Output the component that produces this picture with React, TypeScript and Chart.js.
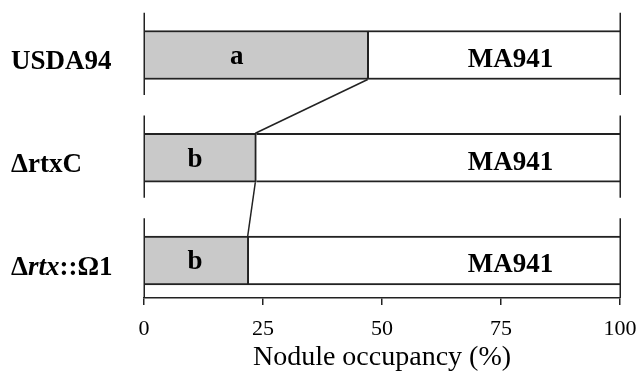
import React, { useEffect, useRef } from "react";
import { Chart, registerables } from "chart.js";

Chart.register(...registerables);

// ---- data ----
const categories = ["USDA94", "ΔrtxC", "Δrtx::Ω1"];
const usdaShare = [47.2, 23.6, 22.0]; // grey segment (%)
const ma941Share = [52.8, 76.4, 78.0]; // white segment (%)
const usdaLetters = ["a", "b", "b"];
const partnerLabel = "MA941";
const xTicks = [0, 25, 50, 75, 100];
const axisTitle = "Nodule occupancy (%)";
// annotation anchors (data units along the x axis)
const letterAnchors = [19.5, 10.7, 10.7];
const partnerAnchor = 77;

const SERIF = "'Liberation Serif', 'Times New Roman', Times, serif";
const INK = "#222";

const overlayPlugin = {
  id: "overlay",
  afterDatasetsDraw(chart: any) {
    const { ctx } = chart;
    const xs = chart.scales.x;
    const ys = chart.scales.y;
    const grey = chart.getDatasetMeta(0).data;

    ctx.save();
    ctx.strokeStyle = INK;
    ctx.lineWidth = 1.5;

    // vertical boundary lines at 0 and 100 for each row
    categories.forEach((_, i) => {
      const y1 = ys.getPixelForValue(i - 0.41);
      const y2 = Math.min(ys.getPixelForValue(i + 0.39), chart.chartArea.bottom);
      [xTicks[0], xTicks[xTicks.length - 1]].forEach((v) => {
        const px = Math.round(xs.getPixelForValue(v)) + 0.25;
        ctx.beginPath();
        ctx.moveTo(px, y1);
        ctx.lineTo(px, y2);
        ctx.stroke();
      });
    });

    // connecting lines between the ends of the grey bars
    for (let i = 0; i < grey.length - 1; i++) {
      const a = grey[i].getProps(["x", "y", "height"], true);
      const b = grey[i + 1].getProps(["x", "y", "height"], true);
      ctx.beginPath();
      ctx.moveTo(a.x - 1, a.y + a.height / 2);
      ctx.lineTo(b.x - 1, b.y - b.height / 2);
      ctx.stroke();
    }

    // text inside bars
    ctx.fillStyle = "#000";
    ctx.font = `bold 27px ${SERIF}`;
    ctx.textAlign = "center";
    ctx.textBaseline = "alphabetic";
    categories.forEach((_, i) => {
      const cy = ys.getPixelForValue(i);
      ctx.fillText(usdaLetters[i], xs.getPixelForValue(letterAnchors[i]), cy + 9);
      ctx.fillText(partnerLabel, xs.getPixelForValue(partnerAnchor), cy + 12);
    });

    // category labels on the left (with italic "rtx")
    ctx.textAlign = "left";
    categories.forEach((label, i) => {
      const cy = ys.getPixelForValue(i) + 14.5;
      let x = 11;
      const parts: { t: string; it: boolean }[] = [];
      const m = label.match(/^(Δ)(rtx)(::.*)$/);
      if (m) {
        parts.push({ t: m[1], it: false }, { t: m[2], it: true }, { t: m[3], it: false });
      } else {
        parts.push({ t: label, it: false });
      }
      parts.forEach((p) => {
        ctx.font = `${p.it ? "italic " : ""}bold 27px ${SERIF}`;
        ctx.fillText(p.t, x, cy);
        x += ctx.measureText(p.t).width;
      });
    });
    ctx.restore();
  },
};

export default function App() {
  const ref = useRef<HTMLCanvasElement | null>(null);

  useEffect(() => {
    document.body.style.margin = "0";
    const canvas = ref.current;
    if (!canvas) return;
    const chart = new Chart(canvas, {
      type: "bar",
      data: {
        datasets: [
          {
            label: "USDA",
            data: usdaShare.map((v, i) => ({ x: v, y: i })),
            backgroundColor: "#c9c9c9",
            borderColor: INK,
            borderWidth: { top: 2, right: 2, bottom: 2, left: 0 },
            borderSkipped: false,
            barThickness: 49,
          },
          {
            label: partnerLabel,
            data: ma941Share.map((v, i) => ({ x: v, y: i })),
            backgroundColor: "#ffffff",
            borderColor: INK,
            borderWidth: { top: 2, right: 0, bottom: 2, left: 0 },
            borderSkipped: false,
            barThickness: 49,
          },
        ],
      } as any,
      options: {
        indexAxis: "y",
        animation: false,
        responsive: true,
        maintainAspectRatio: false,
        layout: { padding: { left: 144, right: 16, top: 3.6, bottom: 0 } },
        plugins: {
          legend: { display: false },
          tooltip: { enabled: false },
        },
        scales: {
          y: {
            type: "linear",
            display: false,
            stacked: true,
            offset: false,
            reverse: true,
            min: -0.5,
            max: 2.365,
            grid: { offset: false },
          },
          x: {
            type: "linear",
            stacked: true,
            offset: false,
            min: xTicks[0],
            max: xTicks[xTicks.length - 1],
            afterBuildTicks: (s: any) => {
              s.ticks = xTicks.map((v) => ({ value: v }));
            },
            afterFit: (s: any) => {
              s.paddingLeft = 6;
              s.paddingRight = 16;
              s.height = 77;
            },
            grid: {
              display: true,
              drawOnChartArea: false,
              drawTicks: true,
              tickLength: 7,
              color: INK,
              lineWidth: 1.5,
            },
            border: { display: true, color: INK, width: 1.5 },
            ticks: {
              color: "#000",
              padding: 13,
              maxRotation: 0,
              autoSkip: false,
              font: { family: SERIF, size: 22, lineHeight: 1 },
            },
            title: {
              display: true,
              text: axisTitle,
              color: "#000",
              font: { family: SERIF, size: 28, lineHeight: 1 },
              padding: { top: 0, bottom: 3 },
            },
          },
        },
      } as any,
      plugins: [overlayPlugin],
    });
    return () => chart.destroy();
  }, []);

  return (
    <div style={{ width: 636, height: 375, position: "relative" }}>
      <canvas ref={ref} />
    </div>
  );
}
